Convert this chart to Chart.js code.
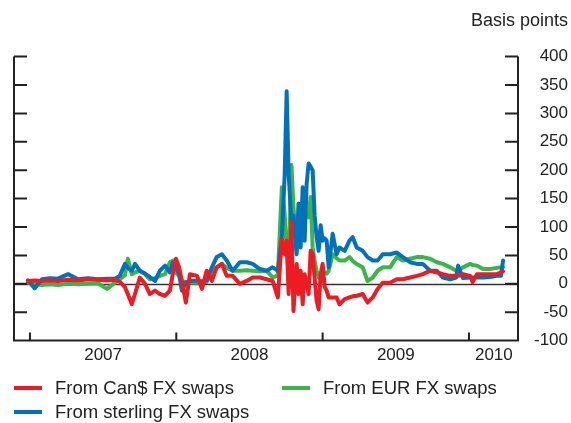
<!DOCTYPE html>
<html>
<head>
<meta charset="utf-8">
<script src="https://cdn.jsdelivr.net/npm/chart.js@4/dist/chart.umd.min.js"></script>
<style>
  body { margin: 0; background: #fff; }
  #wrap { position: relative; width: 571px; height: 423px; font-family: "Liberation Sans", Arial, sans-serif; color: #222; }
  canvas { display: block; }
  .item { position: absolute; height: 22px; line-height: 22px; font-size: 18.5px; white-space: nowrap; }
  .swatch { position: absolute; top: 9px; left: 0; width: 28px; height: 4px; }
  .label { position: absolute; left: 41px; top: 0; }
</style>
</head>
<body>
<div id="wrap">
  <canvas id="myChart" width="571" height="423"></canvas>
  <div class="item" style="left:14px; top:377px;"><span class="swatch" style="background:#ed1c24"></span><span class="label">From Can$ FX swaps</span></div>
  <div class="item" style="left:282px; top:377px;"><span class="swatch" style="background:#39b54a"></span><span class="label">From EUR FX swaps</span></div>
  <div class="item" style="left:14px; top:401px;"><span class="swatch" style="background:#0072bc"></span><span class="label">From sterling FX swaps</span></div>
</div>
<script>
var dates = [
  '2006-12-27','2007-01-13','2007-01-31','2007-02-20','2007-03-12','2007-04-06','2007-05-01','2007-05-26',
  '2007-06-20','2007-07-12','2007-08-01','2007-08-13','2007-08-26','2007-09-02','2007-09-12','2007-09-20',
  '2007-10-02','2007-10-15','2007-10-27','2007-11-09','2007-11-21','2007-12-04','2007-12-16','2007-12-24',
  '2007-12-31','2008-01-08','2008-01-15','2008-01-25','2008-02-04','2008-02-22','2008-03-05','2008-03-17',
  '2008-03-30','2008-04-11','2008-04-24','2008-05-06','2008-05-21','2008-06-08','2008-06-25','2008-07-10',
  '2008-07-28','2008-08-14','2008-08-29','2008-09-11','2008-09-21','2008-09-28','2008-10-03','2008-10-08',
  '2008-10-15','2008-10-20','2008-10-28','2008-11-02','2008-11-07','2008-11-12','2008-11-17','2008-11-22',
  '2008-11-27','2008-12-02','2008-12-07','2008-12-12','2008-12-17','2008-12-22','2008-12-27','2009-01-01',
  '2009-01-06','2009-01-11','2009-01-16','2009-01-26','2009-02-05','2009-02-12','2009-02-25','2009-03-09',
  '2009-03-17','2009-03-27','2009-04-11','2009-04-23','2009-05-06','2009-05-18','2009-05-31','2009-06-18',
  '2009-07-05','2009-07-20','2009-08-07','2009-08-24','2009-09-08','2009-09-26','2009-10-13','2009-10-28',
  '2009-11-15','2009-11-30','2009-12-05','2009-12-17','2010-01-04','2010-01-10','2010-01-21','2010-02-05',
  '2010-02-22','2010-03-12','2010-03-22','2010-03-27'
];

var canSwaps = [
  5,6,5,6,5,7,6,8, 7,6,7,4,-6,-18,-36,-18,
  11,0,-18,-12,-18,-21,-12,20, 44,29,5,-33,17,14,-9,23,
  5,29,35,14,14,0,5,11, 11,8,5,-24,79,52,76,-18,
  109,-48,35,-18,23,-36,17,0, -18,58,52,10,-30,-45,17,35,
  -5,-12,-24,-24,-24,-36,-27,-24, -22,-21,-18,-33,-24,-9,2,2,
  8,8,11,14,17,23,20,17, 14,14,14,17,14,3,17,17,
  17,17,20,22
];

var sterlingSwaps = [
  6,-8,8,10,9,17,8,10, 8,9,9,14,35,28,23,35,
  23,18,12,5,23,32,20,38, 30,17,-12,2,5,6,4,6,
  29,47,52,41,23,38,38,35, 26,23,29,23,82,190,339,194,
  106,120,52,141,64,170,76,176, 212,206,200,120,82,58,103,76,
  80,76,29,88,52,64,58,76, 82,64,58,47,41,41,52,52,
  55,47,38,35,35,23,23,11, 8,11,32,10,11,11,11,11,
  12,14,14,41
];

var eurSwaps = [
  2,0,-2,-1,-2,0,-1,0, 1,-9,2,8,15,44,17,20,
  23,17,8,10,14,17,38,41, 20,14,5,3,2,2,3,3,
  23,29,35,28,23,23,24,23, 22,23,11,15,170,123,60,20,
  209,135,60,141,100,111,115,123, 117,153,64,40,23,11,15,23,
  20,18,23,52,45,41,41,47, 40,35,29,5,11,23,29,29,
  47,41,44,47,47,44,38,35, 29,23,23,29,35,33,32,26,
  26,28,29,29
];

var yearTicks = [2007, 2008, 2009, 2010];
var yearLabels = ['2007', '2008', '2009', '2010'];
var yearLabelAt = [2007.5, 2008.5, 2009.5, 2010.17];

function toYear(d) {
  var t = new Date(d + 'T00:00:00Z');
  var y = t.getUTCFullYear();
  var start = Date.UTC(y, 0, 1), end = Date.UTC(y + 1, 0, 1);
  return y + (t.getTime() - start) / (end - start);
}

function points(vals) {
  var a = [];
  for (var i = 0; i < dates.length; i++) {
    a.push({x: toYear(dates[i]), y: vals[i]});
  }
  return a;
}

var frame = {
  id: 'frame',
  beforeDatasetsDraw: function(chart) {
    var ctx = chart.ctx, a = chart.chartArea, y = chart.scales.y;
    var py = Math.round(y.getPixelForValue(0)) + 0.5;
    ctx.save();
    ctx.strokeStyle = '#333';
    ctx.lineWidth = 1.5;
    ctx.beginPath();
    ctx.moveTo(a.left, py);
    ctx.lineTo(a.right, py);
    ctx.stroke();
    ctx.restore();
  },
  afterDraw: function(chart) {
    var ctx = chart.ctx, a = chart.chartArea, x = chart.scales.x, y = chart.scales.y;
    ctx.save();
    ctx.strokeStyle = '#222';
    ctx.lineWidth = 2;
    ctx.beginPath();
    ctx.moveTo(a.left, a.top);
    ctx.lineTo(a.left, a.bottom);
    ctx.lineTo(a.right, a.bottom);
    ctx.lineTo(a.right, a.top);
    y.ticks.forEach(function(t) {
      var py = y.getPixelForValue(t.value);
      ctx.moveTo(a.left, py); ctx.lineTo(a.left + 13, py);
      ctx.moveTo(a.right, py); ctx.lineTo(a.right - 13, py);
    });
    yearTicks.forEach(function(v) {
      var px = x.getPixelForValue(v);
      ctx.moveTo(px, a.bottom); ctx.lineTo(px, a.bottom - 8);
    });
    ctx.stroke();
    ctx.restore();
  }
};

var ctx = document.getElementById('myChart').getContext('2d');
var chart = new Chart(ctx, {
  type: 'line',
  data: {
    datasets: [{
      label: 'From Can$ FX swaps',
      data: points(canSwaps),
      borderColor: '#ed1c24',
      backgroundColor: '#ed1c24'
    }, {
      label: 'From sterling FX swaps',
      data: points(sterlingSwaps),
      borderColor: '#0072bc',
      backgroundColor: '#0072bc'
    }, {
      label: 'From EUR FX swaps',
      data: points(eurSwaps),
      borderColor: '#39b54a',
      backgroundColor: '#39b54a'
    }]
  },
  options: {
    responsive: false,
    animation: false,
    events: [],
    layout: { padding: { left: 14, right: 3, top: 0, bottom: 52 } },
    elements: {
      line: { borderWidth: 4, tension: 0, borderJoinStyle: 'round', borderCapStyle: 'round' },
      point: { radius: 0 }
    },
    scales: {
      x: {
        type: 'linear',
        min: 2006.891,
        max: 2010.335,
        grid: { display: false, drawTicks: false },
        border: { display: false },
        afterBuildTicks: function(scale) {
          scale.ticks = yearLabelAt.map(function(v) { return {value: v}; });
        },
        ticks: {
          padding: 5,
          maxRotation: 0,
          autoSkip: false,
          color: '#222',
          font: { family: 'Liberation Sans', size: 17 },
          callback: function(value) {
            var i = yearLabelAt.indexOf(value);
            return i >= 0 ? yearLabels[i] : '';
          }
        }
      },
      y: {
        position: 'right',
        min: -100,
        max: 400,
        grid: { display: false, drawTicks: false },
        border: { display: false },
        afterFit: function(scale) { scale.width = 50; },
        ticks: {
          stepSize: 50,
          crossAlign: 'far',
          color: '#222',
          font: { family: 'Liberation Sans', size: 17 }
        }
      }
    },
    plugins: {
      legend: { display: false },
      tooltip: { enabled: false },
      title: {
        display: true,
        text: 'Basis points',
        align: 'end',
        color: '#222',
        font: { family: 'Liberation Sans', size: 18, weight: 'normal' },
        padding: { top: 10, bottom: 25 }
      }
    }
  },
  plugins: [frame]
});
</script>
</body>
</html>
